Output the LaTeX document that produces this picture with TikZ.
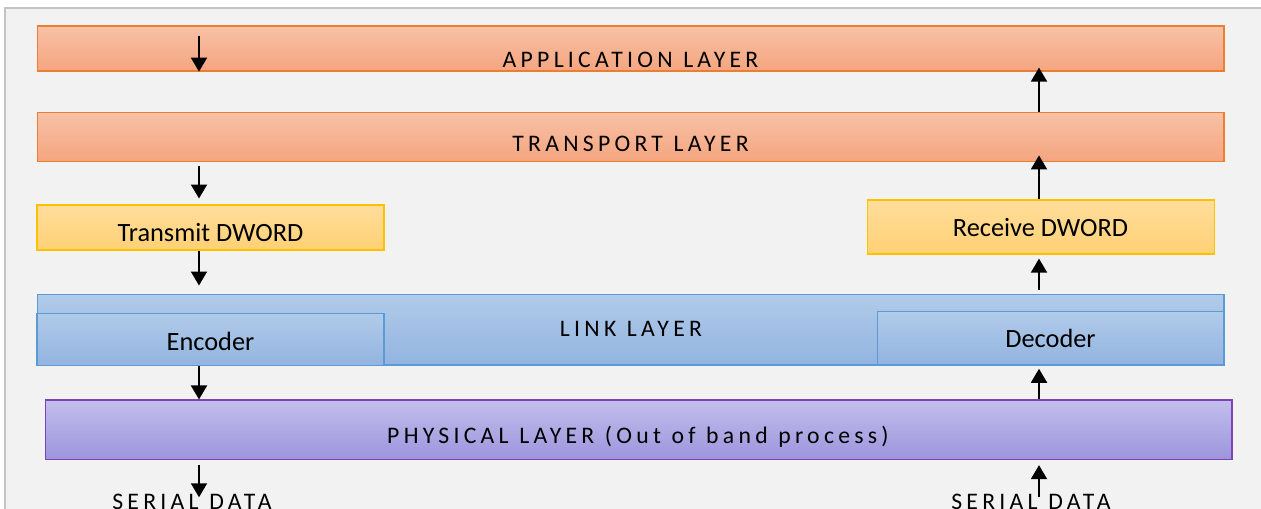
\documentclass[tikz,border=0pt]{standalone}
\usepackage{fontspec}
\setmainfont{Carlito}
\newfontfamily\layerfont[LetterSpace=18,WordSpace=1.1]{Carlito}
\usetikzlibrary{arrows.meta}

\definecolor{panelbg}{HTML}{F2F2F2}
\definecolor{panelline}{HTML}{C4C4C4}
\definecolor{orgtop}{HTML}{F8C1A6}
\definecolor{orgbot}{HTML}{F4A57F}
\definecolor{orgline}{HTML}{ED7D31}
\definecolor{yeltop}{HTML}{FFDD9C}
\definecolor{yelbot}{HTML}{FFD174}
\definecolor{yelline}{HTML}{FFC000}
\definecolor{blutop}{HTML}{B1CBE9}
\definecolor{blubot}{HTML}{92B4E0}
\definecolor{bluline}{HTML}{5B9BD5}
\definecolor{purtop}{HTML}{C2BEEC}
\definecolor{purbot}{HTML}{9C95DD}
\definecolor{purline}{HTML}{8040B8}

\begin{document}
\begin{tikzpicture}[x=0.02cm,y=-0.02cm,
        layerbox/.style={rectangle,inner sep=0pt,line width=0.7pt},
        orangebox/.style={layerbox,draw=orgline,top color=orgtop,bottom color=orgbot},
        yellowbox/.style={layerbox,draw=yelline,top color=yeltop,bottom color=yelbot},
        bluebox/.style={layerbox,draw=bluline,top color=blutop,bottom color=blubot},
        purplebox/.style={layerbox,draw=purline,top color=purtop,bottom color=purbot},
        layertxt/.style={inner sep=0pt,anchor=base,font=\layerfont\fontsize{13.5}{16}\selectfont},
        boxtxt/.style={inner sep=0pt,anchor=base,font=\fontsize{15}{18}\selectfont},
        arr/.style={line width=1.1pt,-{Triangle[length=0.28cm,width=0.32cm]}}]

    \useasboundingbox (0,0) rectangle (1261,508);
    \clip (0,0) rectangle (1261,508);
    \fill[white] (0,0) rectangle (1261,508);
    \filldraw[fill=panelbg,draw=panelline,line width=1pt] (5,8) rectangle (1280,540);

    \node[orangebox,minimum width=23.74cm,minimum height=0.9cm] (app) at (630.5,48.5) {};
    \node[orangebox,minimum width=23.74cm,minimum height=0.98cm] (tport) at (630.5,136.8) {};
    \node[yellowbox,minimum width=6.94cm,minimum height=0.9cm] (tx) at (210.5,227.6) {};
    \node[yellowbox,minimum width=6.94cm,minimum height=1.08cm] (rcv) at (1040.8,227) {};
    \node[bluebox,minimum width=23.74cm,minimum height=1.42cm] (link) at (630.5,329.6) {};
    \node[bluebox,minimum width=6.94cm,minimum height=1.04cm] (enc) at (210.5,339.2) {};
    \node[bluebox,minimum width=6.94cm,minimum height=1.05cm] (dec) at (1050.6,337.9) {};
    \node[purplebox,minimum width=23.74cm,minimum height=1.19cm] (phys) at (638.6,429.8) {};

    \node[layertxt] (applbl) at (630.5,67) {APPLICATION LAYER};
    \node[layertxt] (tportlbl) at (630.5,151.7) {TRANSPORT LAYER};
    \node[boxtxt] (txlbl) at (210.5,241.7) {Transmit DWORD};
    \node[boxtxt] (rcvlbl) at (1040.5,236.7) {Receive DWORD};
    \node[layertxt] (linklbl) at (631,336.5) {LINK LAYER};
    \node[boxtxt] (enclbl) at (210.5,350) {Encoder};
    \node[boxtxt] (declbl) at (1050.5,347.7) {Decoder};
    \node[layertxt] (physlbl) at (638,443.5) {PHYSICAL LAYER (Out of band process)};
    \node[layertxt] (serl) at (192,509) {SERIAL DATA};
    \node[layertxt] (serr) at (1031,509) {SERIAL DATA};

    \coordinate (lx) at (199,0);
    \coordinate (rx) at (1039,0);

    \draw[arr,shorten <=0.22cm] (app.north -| lx) -- (app.south -| lx);
    \draw[arr,shorten <=0.08cm,shorten >=0.12cm] (tport.south -| lx) -- (tx.north -| lx);
    \draw[arr,shorten >=0.16cm] (tx.south -| lx) -- (link.north -| lx);
    \draw[arr] (enc.south -| lx) -- (phys.north -| lx);
    \draw[arr,shorten <=0.1cm,shorten >=-0.08cm] (phys.south -| lx) -- (serl.north -| lx);

    \draw[arr,shorten >=-0.08cm] (tport.north -| rx) -- (app.south -| rx);
    \draw[arr,shorten >=-0.13cm] (rcv.north -| rx) -- (tport.south -| rx);
    \draw[arr,shorten <=0.08cm,shorten >=0.08cm] (link.north -| rx) -- (rcv.south -| rx);
    \draw[arr,shorten >=0.08cm] (phys.north -| rx) -- (dec.south -| rx);
    \draw[arr,shorten <=-0.08cm,shorten >=0.1cm] (serr.north -| rx) -- (phys.south -| rx);

\end{tikzpicture}
\end{document}
